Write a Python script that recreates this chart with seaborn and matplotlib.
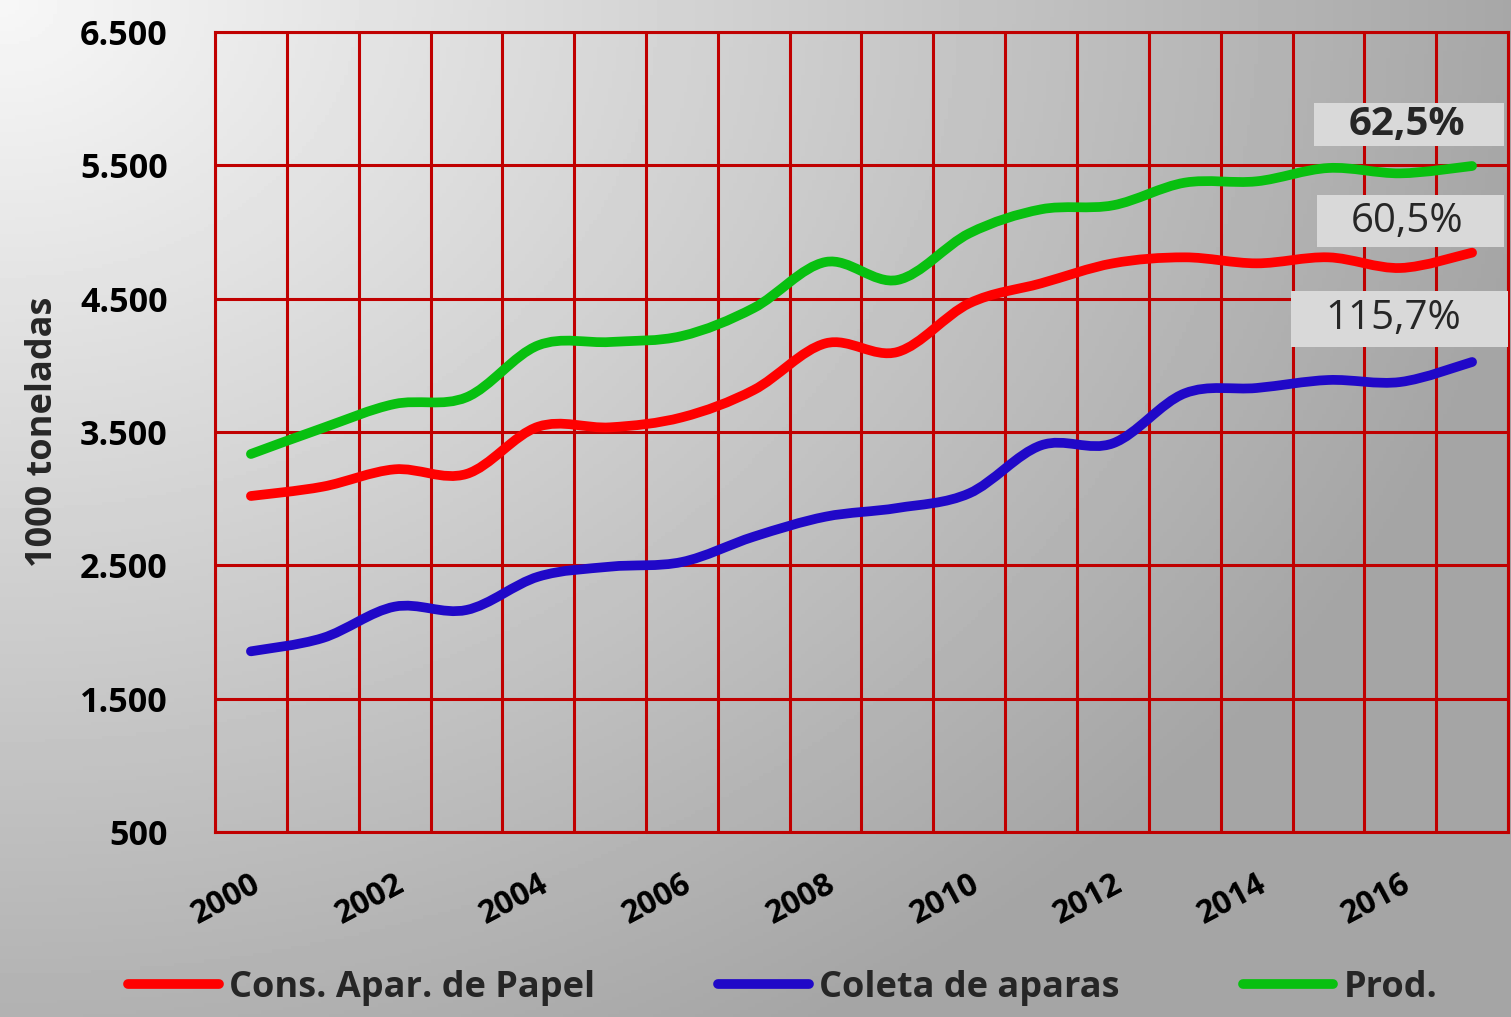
import numpy as np
import matplotlib
matplotlib.use('Agg')
import matplotlib.pyplot as plt
import seaborn as sns
from matplotlib.path import Path
from matplotlib.patches import PathPatch, Rectangle
from matplotlib.lines import Line2D

# data (1000 toneladas)
years = list(range(2000, 2018))
cons = [3020, 3090, 3220, 3185, 3540, 3535, 3610, 3815, 4165, 4100,
        4465, 4615, 4765, 4810, 4765, 4810, 4730, 4845]
coleta = [1855, 1955, 2190, 2165, 2415, 2490, 2525, 2715, 2865, 2930,
          3040, 3400, 3415, 3790, 3830, 3890, 3875, 4025]
prod = [3335, 3530, 3710, 3760, 4150, 4175, 4220, 4430, 4775, 4640,
        4990, 5170, 5200, 5370, 5380, 5480, 5440, 5495]
series_names = ['Cons. Apar. de Papel', 'Coleta de aparas', 'Prod.']
series_colors = ['#ff0000', '#2008c8', '#08c010']
growth_labels = ['62,5%', '60,5%', '115,7%']
yticks = [500, 1500, 2500, 3500, 4500, 5500, 6500]
xtick_years = [2000, 2002, 2004, 2006, 2008, 2010, 2012, 2014, 2016]

W, H = 1511, 1017
GRID = '#c00000'
FONT = 'Open Sans'


def smooth_path(x, y):
    # catmull-rom style smoothing like excel's "smoothed line"
    pts = np.column_stack([x, y]).astype(float)
    ext = np.vstack([pts[0], pts, pts[-1]])
    verts = [pts[0]]
    codes = [Path.MOVETO]
    for i in range(len(pts) - 1):
        p0, p1, p2, p3 = ext[i], ext[i + 1], ext[i + 2], ext[i + 3]
        verts += [p1 + (p2 - p0) / 6, p2 - (p3 - p1) / 6, p2]
        codes += [Path.CURVE4] * 3
    return Path(verts, codes)


sns.set_theme(style='white')
plt.rcParams['font.family'] = [FONT, 'DejaVu Sans']

fig = plt.figure(figsize=(W / 100, H / 100), dpi=100)

# radial gray gradient from the top-left corner
bg = fig.add_axes([0, 0, 1, 1], zorder=-10)
gx, gy = np.meshgrid(np.linspace(0, 1, 400), np.linspace(0, 1, 300))
r = np.sqrt(gx ** 2 + (gy / 1.15) ** 2)
grad = np.clip(247 - 80 * r, 165, 255) / 255
bg.imshow(grad, cmap='gray', vmin=0, vmax=1, aspect='auto',
          extent=[0, 1, 1, 0])
bg.set_axis_off()

ax = fig.add_axes([215 / W, (H - 832) / H, (1508 - 215) / W, (832 - 32) / H])
ax.patch.set_alpha(0)

idx = np.arange(len(years))
for vals, col in zip([cons, coleta, prod], series_colors):
    patch = PathPatch(smooth_path(idx, vals), fill=False, edgecolor=col,
                      lw=7, capstyle='round', joinstyle='round', zorder=3)
    ax.add_patch(patch)

ax.set_xlim(-0.5, len(years) - 0.5)
ax.set_ylim(yticks[0], yticks[-1])
ax.set_yticks(yticks)
ax.set_yticklabels([f'{v:,}'.replace(',', '.') for v in yticks],
                   fontsize=24.5, fontweight='bold')
ax.set_xticks([years.index(y) for y in xtick_years])
ax.set_xticklabels([str(y) for y in xtick_years], fontsize=23,
                   fontweight='bold', rotation=28, ha='right',
                   rotation_mode='anchor')
ax.set_xticks(np.arange(-0.5, len(years), 1), minor=True)
ax.tick_params(axis='y', length=0, pad=34, colors='black')
ax.tick_params(axis='x', which='both', length=0, pad=26, colors='black')
ax.grid(False)
ax.grid(True, axis='y', which='major', color=GRID, lw=2.2, zorder=1)
ax.grid(True, axis='x', which='minor', color=GRID, lw=2.2, zorder=1)
for sp in ax.spines.values():
    sp.set_color(GRID)
    sp.set_linewidth(2.2)

fig.text(43 / W, 1 - 432 / H, '1000 toneladas', rotation=90, ha='center',
         va='center', fontsize=26, fontweight='bold')

# growth labels on the right
boxes = [(1314, 103, 1504, 146), (1317, 195, 1504, 247), (1291, 291, 1508, 347)]
centers = [(1407, 124), (1407, 222), (1393, 319)]
weights = ['bold', 'normal', 'normal']
for (x0, y0, x1, y1), (cx, cy), lab, wt in zip(boxes, centers, growth_labels, weights):
    fig.patches.append(Rectangle((x0 / W, 1 - y1 / H), (x1 - x0) / W,
                                 (y1 - y0) / H, transform=fig.transFigure,
                                 facecolor='#d9d9d9', edgecolor='none',
                                 zorder=5))
    fig.text(cx / W, 1 - cy / H, lab, ha='center', va='center',
             fontsize=29, fontweight=wt, zorder=6)

handles = [Line2D([0], [0], color=c, lw=7, solid_capstyle='round')
           for c in series_colors]
leg = fig.legend(handles, series_names, loc='center',
                 bbox_to_anchor=(783 / W, 1 - 988 / H), ncol=3,
                 frameon=False, handlelength=2.5, handletextpad=0.3,
                 columnspacing=3.4, prop={'family': FONT, 'weight': 'bold',
                                          'size': 26})

fig.savefig('out.png', dpi=100)
